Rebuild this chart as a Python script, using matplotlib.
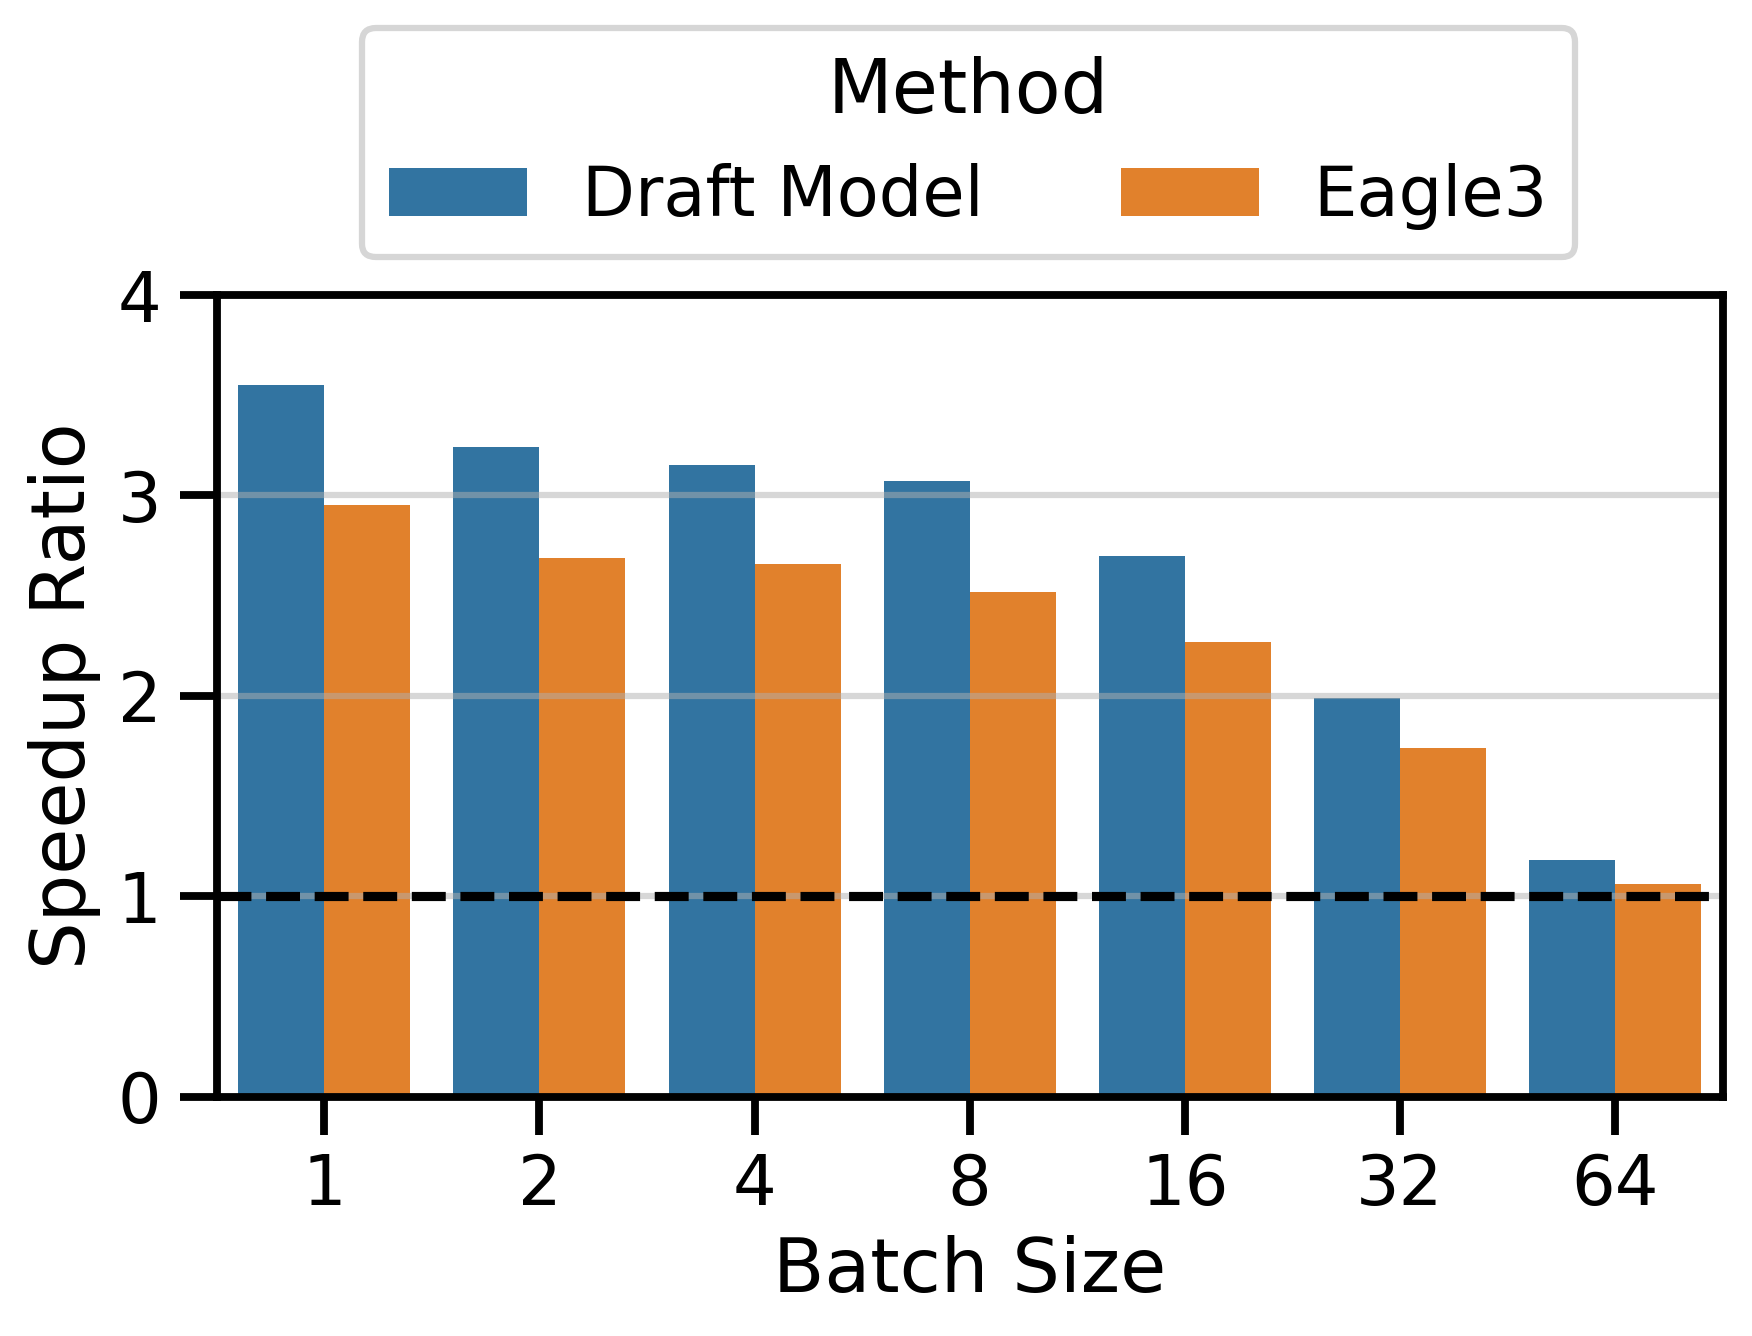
import matplotlib
matplotlib.use("Agg")
import matplotlib.pyplot as plt
import numpy as np

batch_sizes = ["1", "2", "4", "8", "16", "32", "64"]
methods = ["Draft Model", "Eagle3"]
draft_model = [3.55, 3.24, 3.15, 3.07, 2.70, 1.99, 1.18]
eagle3 = [2.95, 2.69, 2.66, 2.52, 2.27, 1.74, 1.06]
colors = ["#3274a1", "#e1812c"]

plt.rcParams["font.family"] = ["DejaVu Sans"]
plt.rcParams["axes.linewidth"] = 1.875
plt.rcParams["xtick.major.size"] = 9
plt.rcParams["ytick.major.size"] = 9
plt.rcParams["xtick.major.width"] = 1.875
plt.rcParams["ytick.major.width"] = 1.875
plt.rcParams["xtick.major.pad"] = 4.2
plt.rcParams["ytick.major.pad"] = 4.2

fig = plt.figure(figsize=(1752 / 300, 1336 / 300), dpi=300)
ax = fig.add_axes([216.7 / 1752, 1 - 1096.7 / 1336,
                   (1722.7 - 216.7) / 1752, (1096.7 - 295) / 1336])

x = np.arange(len(batch_sizes))
w = 0.4
series = [draft_model, eagle3]
for i, (name, vals) in enumerate(zip(methods, series)):
    ax.bar(x - 0.2 + i * w, vals, width=w, color=colors[i], linewidth=0,
           label=name, zorder=1)

ax.set_xlim(-0.5, len(batch_sizes) - 0.5)
ax.set_ylim(0, 4)
ax.set_xticks(x)
ax.set_xticklabels(batch_sizes)
ax.set_yticks([0, 1, 2, 3, 4])
ax.tick_params(labelsize=16.5)
ax.set_xlabel("Batch Size", fontsize=18)
ax.set_ylabel("Speedup Ratio", fontsize=18)

ax.set_axisbelow(False)
ax.yaxis.grid(True, color="#b0b0b0", alpha=0.5, linewidth=1.5, zorder=2.5)
ax.xaxis.grid(False)
ax.axhline(1.0, color="black", linestyle="--", linewidth=2.2, zorder=3)
for s in ax.spines.values():
    s.set_zorder(4)

leg = fig.legend(loc="upper center", bbox_to_anchor=(968.5 / 1752, 1 - 28 / 1336),
                 ncol=2, title="Method", fontsize=16.5, title_fontsize=18,
                 borderaxespad=0, frameon=True)
leg.get_frame().set_linewidth(1.5)

fig.savefig("out.png", dpi=300)
